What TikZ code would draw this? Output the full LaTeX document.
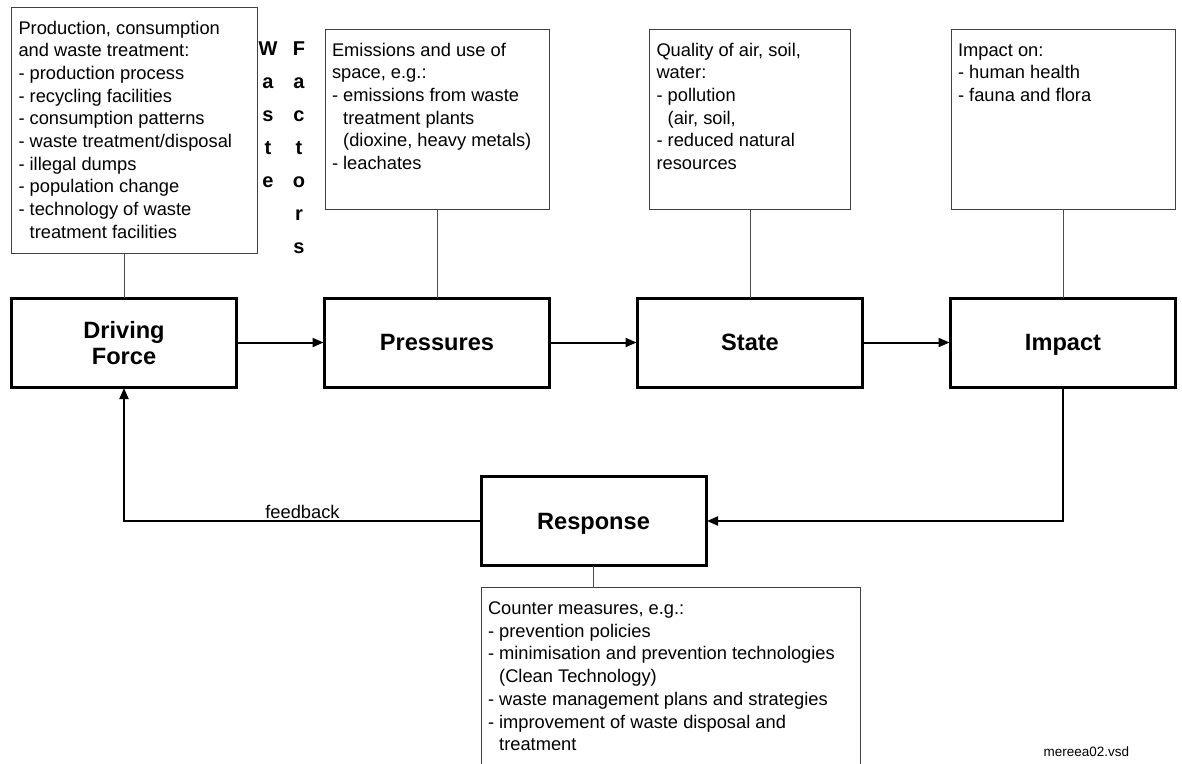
\documentclass[tikz,border=0pt]{standalone}
\usepackage{fontspec}
\setmainfont{Liberation Sans}
\usetikzlibrary{arrows.meta, positioning}
\newcommand{\infofont}{\fontsize{18.3}{22.7}\selectfont}
\newcommand{\stagefont}{\fontsize{23.6}{26}\selectfont\bfseries}
\newcommand{\letterfont}{\fontsize{20}{33}\selectfont\bfseries}
\newcommand{\boxtext}[3]{\parbox[c][#2][t]{#1}{\raggedright\rule{0pt}{27pt}#3}}
\newcommand{\ind}{\phantom{- }}

\begin{document}
\begin{tikzpicture}[x=1pt, y=-1pt,
    node distance=88pt and 88pt,
    stage/.style={draw=black, line width=3pt, rectangle, outer sep=0pt, minimum width=225pt, minimum height=89pt, text depth=0pt, align=center, font=\stagefont},
    infobox/.style={draw=black!75, line width=1pt, rectangle, outer sep=0pt, inner xsep=7pt, inner ysep=0pt, font=\infofont},
    letters/.style={align=center, inner sep=0pt, font=\letterfont},
    flow/.style={line width=2pt, shorten >=1pt, -{Triangle[length=11pt, width=9pt]}},
    link/.style={draw=black!70, line width=1pt}
]
\useasboundingbox (0,0) rectangle (1182,763);

% Chain
\node[stage] (df) at (124,342.5) {Driving\\Force};
\node[stage, right=of df] (pres) {Pressures};
\node[stage, right=of pres] (state) {State};
\node[stage, right=of state] (impact) {Impact};
\node[stage] (resp) at (593.5,521) {Response};

% Boxes above
\node[infobox, above=45pt of df.north west, anchor=south west] (prodinfo) {\boxtext{232pt}{246pt}{Production, consumption\\
and waste treatment:\\
- production process\\
- recycling facilities\\
- consumption patterns\\
- waste treatment/disposal\\
- illegal dumps\\
- population change\\
- technology of waste\\
\ind treatment facilities}};
\node[infobox, above=89pt of pres] (presinfo) {\boxtext{210pt}{180pt}{Emissions and use of\\
space, e.g.:\\
- emissions from waste\\
\ind treatment plants\\
\ind (dioxine, heavy metals)\\
- leachates}};
\node[infobox, above=89pt of state] (stateinfo) {\boxtext{187pt}{180pt}{Quality of air, soil,\\
water:\\
- pollution\\
\ind (air, soil,\\
- reduced natural\\
resources}};
\node[infobox, above=89pt of impact] (impactinfo) {\boxtext{210pt}{180pt}{Impact on:\\
- human health\\
- fauna and flora}};

% Box below
\node[infobox, below=22pt of resp.south west, anchor=north west] (respinfo) {\boxtext{365pt}{192pt}{Counter measures, e.g.:\\
- prevention policies\\
- minimisation and prevention technologies\\
\ind (Clean Technology)\\
- waste management plans and strategies\\
- improvement of waste disposal and\\
\ind treatment}};

% Waste Factors
\node[letters, anchor=north] (wastecol) at (268,42) {W\\a\\s\\t\\e};
\node[letters, anchor=north] (factcol) at (299,42) {F\\a\\c\\t\\o\\r\\s};

% Links
\draw[link] (df.north) -- (df.north |- prodinfo.south);
\draw[link] (pres.north) -- (presinfo.south);
\draw[link] (state.north) -- (stateinfo.south);
\draw[link] (impact.north) -- (impactinfo.south);
\draw[link] (resp.south) -- (resp.south |- respinfo.north);

% Arrows
\draw[flow] (df) -- (pres);
\draw[flow] (pres) -- (state);
\draw[flow] (state) -- (impact);
\draw[flow] (impact.south) |- (resp.east);
\draw[flow] (resp.west) -| node[above, pos=0.25, inner sep=1pt, font=\infofont] (fblabel) {feedback} (df.south);

\node[anchor=base west, font=\fontsize{13.5}{16}\selectfont] (filename) at (1040,756) {mereea02.vsd};
\end{tikzpicture}
\end{document}
